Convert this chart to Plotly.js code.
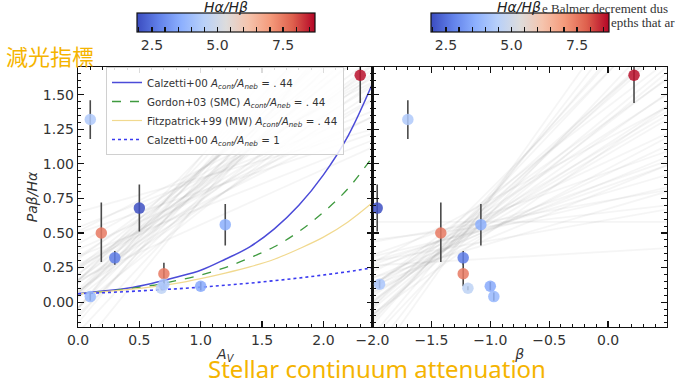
<!DOCTYPE html>
<html>
<head>
<meta charset="utf-8">
<script src="https://cdn.plot.ly/plotly-3.0.1.min.js"></script>
<style>html,body{margin:0;padding:0;background:#fff;}#chart{width:675px;height:382px;}</style>
</head>
<body>
<div id="chart"></div>
<script>
// ---------- data ----------
// individual galaxies (shared y between both panels)
const pabHa   = [1.64, 1.32, 0.68, 0.50, 0.56, 0.32, 0.205, 0.10, 0.115, 0.04, 0.13];
const errUp   = [0.20, 0.14, 0.17, 0.22, 0.15, 0.05, 0.08, 0.015, 0.03, 0.03, 0.03];
const errDown = [0.20, 0.14, 0.17, 0.21, 0.15, 0.05, 0.09, 0.015, 0.03, 0.03, 0.03];
const Av      = [2.30, 0.10, 0.50, 0.19, 1.20, 0.30, 0.70, 0.68, 1.00, 0.10, 0.70];
const beta    = [0.22, -1.70, -1.96, -1.42, -1.08, -1.23, -1.23, -1.19, -1.00, -0.97, -1.94];
const haHb    = [8.6, 4.3, 2.0, 7.5, 3.6, 2.7, 7.5, 4.6, 3.5, 3.8, 4.2];

// model curves (left panel)
const avGrid    = [0, 0.2, 0.4, 0.6, 0.8, 1.0, 1.2, 1.4, 1.6, 1.8, 2.0, 2.2, 2.4];
const calz044   = [0.06, 0.08, 0.10, 0.135, 0.18, 0.23, 0.31, 0.40, 0.53, 0.70, 0.92, 1.20, 1.58];
const gordon044 = [0.06, 0.075, 0.095, 0.12, 0.155, 0.195, 0.25, 0.32, 0.40, 0.51, 0.65, 0.82, 1.05];
const fitz044   = [0.06, 0.074, 0.09, 0.11, 0.135, 0.17, 0.21, 0.255, 0.31, 0.385, 0.47, 0.58, 0.72];
const calz1     = [0.06, 0.068, 0.076, 0.086, 0.096, 0.108, 0.122, 0.137, 0.155, 0.174, 0.196, 0.22, 0.248];
const legendNames = [
  'Calzetti+00 <i>A<sub>cont</sub>/A<sub>neb</sub></i> = . 44',
  'Gordon+03 (SMC) <i>A<sub>cont</sub>/A<sub>neb</sub></i> = . 44',
  'Fitzpatrick+99 (MW) <i>A<sub>cont</sub>/A<sub>neb</sub></i> = . 44',
  'Calzetti+00 <i>A<sub>cont</sub>/A<sub>neb</sub></i> = 1'
];

// posterior fit samples (level at pivot, slope) – gray background lines
const leftLevel = [0.30,0.35,0.40,0.42,0.45,0.47,0.50,0.50,0.52,0.53,0.55,0.55,0.56,0.57,0.58,0.60,0.60,0.62,0.63,0.65,0.66,0.68,0.70,0.72,0.75,0.78,0.80,0.38,0.48,0.58,0.64,0.44,0.54,0.61,0.69,0.51,0.57,0.46,0.59,0.67];
const leftSlope = [1.10,0.95,0.40,0.85,0.70,0.55,0.90,0.60,0.75,0.45,0.80,0.65,1.00,0.50,0.70,0.85,0.60,0.40,0.95,0.75,0.55,0.30,0.65,0.50,0.35,0.45,0.25,0.70,1.05,0.90,0.80,0.60,0.35,1.10,0.90,0.75,0.55,0.95,0.65,0.70];
const rightLevel = [0.30,0.33,0.35,0.37,0.38,0.40,0.40,0.41,0.42,0.43,0.44,0.45,0.45,0.46,0.47,0.48,0.49,0.50,0.50,0.52,0.53,0.55,0.56,0.58,0.60,0.36,0.39,0.42,0.44,0.47,0.49,0.51,0.54,0.57,0.41,0.46,0.43,0.48,0.52,0.45];
const rightSlope = [0.05,0.60,0.25,0.90,0.45,0.15,0.70,1.10,0.35,0.55,0.80,0.30,0.65,1.00,0.20,0.50,0.75,0.40,0.95,0.10,0.60,0.30,0.85,0.00,0.45,0.35,1.20,0.50,0.70,0.25,0.90,0.55,0.15,0.65,0.40,0.80,0.60,0.30,0.75,0.50];
const leftPivot = 0.6, rightPivot = -1.3;

// colour bar tick labels
const cbTickVals = [2.0,2.5,3.0,3.5,4.0,4.5,5.0,5.5,6.0,6.5,7.0,7.5,8.0,8.5];
const cbTickText = ['','2.5','','','','','5.0','','','','','7.5','',''];

// ---------- styling ----------
const W = 675, H = 382;
const coolwarm = [
  [0.0,'rgb(59,76,192)'],[0.125,'rgb(98,130,234)'],[0.25,'rgb(141,176,254)'],
  [0.375,'rgb(184,208,249)'],[0.5,'rgb(221,220,220)'],[0.625,'rgb(245,196,173)'],
  [0.75,'rgb(244,154,123)'],[0.875,'rgb(222,96,77)'],[1.0,'rgb(180,4,38)']
];
const FONT = 'DejaVu Sans';
const traces = [];

function fan(levels, slopes, pivot, x0, x1, xa, ya) {
  for (let i = 0; i < levels.length; i++) {
    traces.push({
      type: 'scatter', mode: 'lines', xaxis: xa, yaxis: ya,
      x: [x0, x1],
      y: [levels[i] + slopes[i]*(x0 - pivot), levels[i] + slopes[i]*(x1 - pivot)],
      line: {color: 'rgba(125,125,125,0.075)', width: 1.8},
      hoverinfo: 'skip', showlegend: false
    });
  }
}
fan(leftLevel, leftSlope, leftPivot, -0.1, 2.5, 'x', 'y');
fan(rightLevel, rightSlope, rightPivot, -2.1, 0.6, 'x2', 'y2');

const curveStyles = [
  {color: '#4b4bd8', width: 1.5, dash: 'solid'},
  {color: '#3f9a3f', width: 1.3, dash: 'dash'},
  {color: '#f1d98f', width: 1.2, dash: 'solid'},
  {color: '#3a3af0', width: 1.6, dash: 'dot'}
];
[calz044, gordon044, fitz044, calz1].forEach((ys, i) => {
  traces.push({
    type: 'scatter', mode: 'lines', xaxis: 'x', yaxis: 'y',
    x: avGrid, y: ys, name: legendNames[i],
    line: Object.assign({shape: 'spline'}, curveStyles[i]),
    showlegend: true
  });
});

function points(xs, xa, ya, cax) {
  traces.push({
    type: 'scatter', mode: 'markers', xaxis: xa, yaxis: ya,
    x: xs, y: pabHa, showlegend: false,
    error_y: {type: 'data', symmetric: false, array: errUp, arrayminus: errDown,
              color: '#4a4a4a', thickness: 1.6, width: 0},
    marker: {color: haHb, coloraxis: cax, size: 11.5, opacity: 0.85, line: {width: 0}}
  });
}
points(Av, 'x', 'y', 'coloraxis');
points(beta, 'x2', 'y2', 'coloraxis2');

const axisCommon = {
  showline: true, linecolor: '#111', linewidth: 1.2, mirror: 'ticks',
  ticks: 'inside', ticklen: 6, tickwidth: 1.2, tickcolor: '#111',
  showgrid: false, zeroline: false,
  tickfont: {family: FONT, size: 14, color: '#333'}
};
const xDomL = [78/W, 372.5/W], xDomR = [372.5/W, 667/W];
const yDom = [1 - 327/H, 1 - 67/H];

function cbar(cx) {
  return {
    orientation: 'h', x: cx/W, xanchor: 'center', y: 1 - 13/H, yanchor: 'top',
    len: 178, lenmode: 'pixels', thickness: 19, thicknessmode: 'pixels',
    outlinewidth: 1.2, outlinecolor: '#111', xpad: 0, ypad: 0,
    ticks: 'inside', ticklen: 5, tickwidth: 1.2, tickcolor: '#111',
    tickvals: cbTickVals, ticktext: cbTickText,
    tickfont: {family: FONT, size: 14, color: '#333'},
    title: {text: ''}
  };
}
function note(text, x, y, xanchor, font) {
  return {text: text, xref: 'paper', yref: 'paper', x: x/W, y: 1 - y/H,
          xanchor: xanchor, yanchor: 'middle', showarrow: false, font: font};
}

const layout = {
  width: W, height: H, margin: {l: 0, r: 0, t: 0, b: 0},
  paper_bgcolor: '#fff', plot_bgcolor: '#fff',
  font: {family: FONT, color: '#333'},
  xaxis: Object.assign({}, axisCommon, {
    domain: xDomL, range: [0, 2.4], anchor: 'y', dtick: 0.5, tick0: 0, tickformat: '.1f',
    minor: {ticks: 'inside', ticklen: 3, dtick: 0.1, tick0: 0, tickcolor: '#111', tickwidth: 1},
    title: {text: '<i>A<sub>V</sub></i>', standoff: 2, font: {family: FONT, size: 14, color: '#333'}}
  }),
  xaxis2: Object.assign({}, axisCommon, {
    domain: xDomR, range: [-2.0, 0.5], anchor: 'y2', dtick: 0.5, tick0: 0, tickformat: '.1f',
    minor: {ticks: 'inside', ticklen: 3, dtick: 0.1, tick0: 0, tickcolor: '#111', tickwidth: 1},
    title: {text: '<i>β</i>', standoff: 2, font: {family: FONT, size: 14, color: '#333'}}
  }),
  yaxis: Object.assign({}, axisCommon, {
    domain: yDom, range: [-0.18, 1.70], anchor: 'x', dtick: 0.25, tick0: 0, tickformat: '.2f',
    minor: {ticks: 'inside', ticklen: 3, dtick: 0.05, tick0: 0, tickcolor: '#111', tickwidth: 1},
    title: {text: '<i>Paβ/Hα</i>', standoff: 2, font: {family: FONT, size: 14, color: '#333'}}
  }),
  yaxis2: Object.assign({}, axisCommon, {
    domain: yDom, range: [-0.18, 1.70], anchor: 'x2', dtick: 0.25, tick0: 0,
    showticklabels: false,
    minor: {ticks: 'inside', ticklen: 3, dtick: 0.05, tick0: 0, tickcolor: '#111', tickwidth: 1}
  }),
  coloraxis: {cmin: 1.93, cmax: 8.72, colorscale: coolwarm, colorbar: cbar(226)},
  coloraxis2: {cmin: 1.93, cmax: 8.72, colorscale: coolwarm, colorbar: cbar(520)},
  legend: {
    x: 106/W, y: 1 - 67/H, xanchor: 'left', yanchor: 'top',
    bgcolor: 'rgba(255,255,255,0.85)', bordercolor: '#d0d0d0', borderwidth: 1,
    font: {family: FONT, size: 10.3, color: '#333'}, itemwidth: 30, tracegroupgap: 0
  },
  annotations: [
    note('<i>Hα/Hβ</i>', 226, 7, 'center', {family: FONT, size: 14, color: '#222'}),
    note('<i>Hα/Hβ</i>', 519, 7, 'center', {family: FONT, size: 14, color: '#222'}),
    note('減光指標', 4, 55, 'left', {family: 'Noto Sans CJK TC', size: 22, color: '#f5b400'}),
    note('Stellar continuum attenuation', 377, 368, 'center', {family: 'Noto Sans', size: 24, color: '#f5b400'}),
    note('e Balmer decrement dus', 540, 8, 'left', {family: 'Liberation Serif', size: 13, color: '#333'}),
    note('epths that ar', 609, 23, 'left', {family: 'Liberation Serif', size: 13, color: '#333'})
  ]
};

Plotly.newPlot('chart', traces, layout, {staticPlot: true, displayModeBar: false});
</script>
</body>
</html>
